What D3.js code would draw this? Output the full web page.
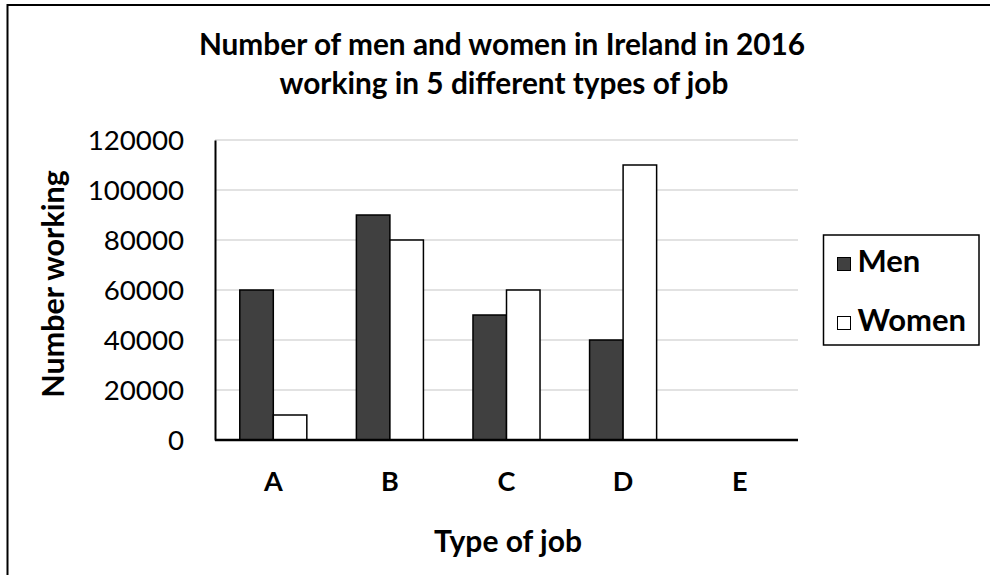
<!DOCTYPE html>
<html lang="en">
  <head>
    <meta charset="UTF-8" />
    <script src="https://d3js.org/d3.v7.min.js"></script>
    <title>Ireland jobs 2016</title>
    <style>
      body { margin: 0; background: #fff; }
      text { font-family: Lato, "Open Sans", sans-serif; fill: #000; }
    </style>
  </head>
  <body>
    <svg id="chart" width="990" height="575"></svg>
    <script>
      // data
      var jobs = ['A', 'B', 'C', 'D', 'E'];
      var seriesNames = ['Men', 'Women'];
      var men = [60000, 90000, 50000, 40000, 0];
      var women = [10000, 80000, 60000, 110000, 0];
      var yTicks = [0, 20000, 40000, 60000, 80000, 100000, 120000];
      var colors = ['#404040', '#ffffff'];

      var svg = d3.select('#chart');

      // outer chart border (right and bottom run off the picture)
      svg.append('rect')
        .attr('x', 7.5).attr('y', 5)
        .attr('width', 1100).attr('height', 700)
        .attr('fill', 'none').attr('stroke', '#000').attr('stroke-width', 2);

      var margin = { left: 215, right: 192, top: 140, bottom: 135 };
      var width = 990 - margin.left - margin.right,
        height = 575 - margin.top - margin.bottom;

      var g = svg.append('g').attr('transform', 'translate(' + margin.left + ',' + margin.top + ')');

      var x = d3.scaleBand().domain(jobs).range([0, width]).paddingInner(0.425).paddingOuter(0.2125);
      var x1 = d3.scaleBand().domain(seriesNames).range([0, x.bandwidth()]);
      var y = d3.scaleLinear().domain([0, 120000]).range([height, 0]);

      // gridlines
      g.append('g')
        .selectAll('line')
        .data(yTicks.slice(1))
        .enter()
        .append('line')
        .attr('x1', 0).attr('x2', width)
        .attr('y1', function(d) { return y(d); })
        .attr('y2', function(d) { return y(d); })
        .attr('stroke', '#d9d9d9').attr('stroke-width', 1.5);

      // y axis
      var yAxis = g.append('g').call(d3.axisLeft(y).tickValues(yTicks).tickSize(0).tickPadding(31).tickFormat(d3.format('d')));
      yAxis.select('.domain').attr('stroke', '#000').attr('stroke-width', 2);
      yAxis.selectAll('text').style('font-size', '27.7px').attr('dy', '0.36em');

      // bars
      var rows = jobs.map(function(j, i) { return { job: j, values: [men[i], women[i]] }; });
      g.append('g')
        .selectAll('g')
        .data(rows)
        .enter()
        .append('g')
        .attr('transform', function(d) { return 'translate(' + x(d.job) + ',0)'; })
        .selectAll('rect')
        .data(function(d) { return d.values.map(function(v, k) { return { key: seriesNames[k], value: v, k: k }; }); })
        .enter()
        .filter(function(d) { return d.value > 0; })
        .append('rect')
        .attr('x', function(d) { return x1(d.key); })
        .attr('width', x1.bandwidth())
        .attr('y', function(d) { return y(d.value); })
        .attr('height', function(d) { return height - y(d.value); })
        .attr('fill', function(d) { return colors[d.k]; })
        .attr('stroke', '#000').attr('stroke-width', 1.5);

      // x axis
      var xAxis = g.append('g').attr('transform', 'translate(0,' + height + ')')
        .call(d3.axisBottom(x).tickSize(0).tickPadding(32));
      xAxis.select('.domain').attr('stroke', '#000').attr('stroke-width', 2.5).attr('d', 'M0,0H' + width);
      xAxis.selectAll('text').style('font-size', '27px').style('font-weight', 'bold');

      // title
      var title = svg.append('text').attr('text-anchor', 'middle')
        .style('font-size', '29.8px').style('font-weight', 'bold');
      title.append('tspan').attr('x', 502).attr('y', 55).text('Number of men and women in Ireland in 2016');
      title.append('tspan').attr('x', 504).attr('y', 94).text('working in 5 different types of job');

      // axis titles
      svg.append('text')
        .attr('transform', 'translate(64,284) rotate(-90)')
        .attr('text-anchor', 'middle')
        .style('font-size', '30.5px').style('font-weight', 'bold')
        .text('Number working');

      svg.append('text')
        .attr('x', 508).attr('y', 552)
        .attr('text-anchor', 'middle')
        .style('font-size', '30px').style('font-weight', 'bold')
        .text('Type of job');

      // legend
      var legend = svg.append('g');
      legend.append('rect')
        .attr('x', 823.5).attr('y', 235).attr('width', 155.5).attr('height', 110)
        .attr('fill', '#fff').attr('stroke', '#000').attr('stroke-width', 1.5);
      var items = legend.selectAll('g.item')
        .data(seriesNames)
        .enter()
        .append('g')
        .attr('transform', function(d, i) { return 'translate(837.5,' + (257.5 + i * 59) + ')'; });
      items.append('rect')
        .attr('width', 13).attr('height', 13)
        .attr('fill', function(d, i) { return colors[i]; })
        .attr('stroke', '#000').attr('stroke-width', 1);
      items.append('text')
        .attr('x', 20).attr('y', 14.5)
        .style('font-size', '31px').style('font-weight', 'bold')
        .text(function(d) { return d; });
    </script>
  </body>
</html>
